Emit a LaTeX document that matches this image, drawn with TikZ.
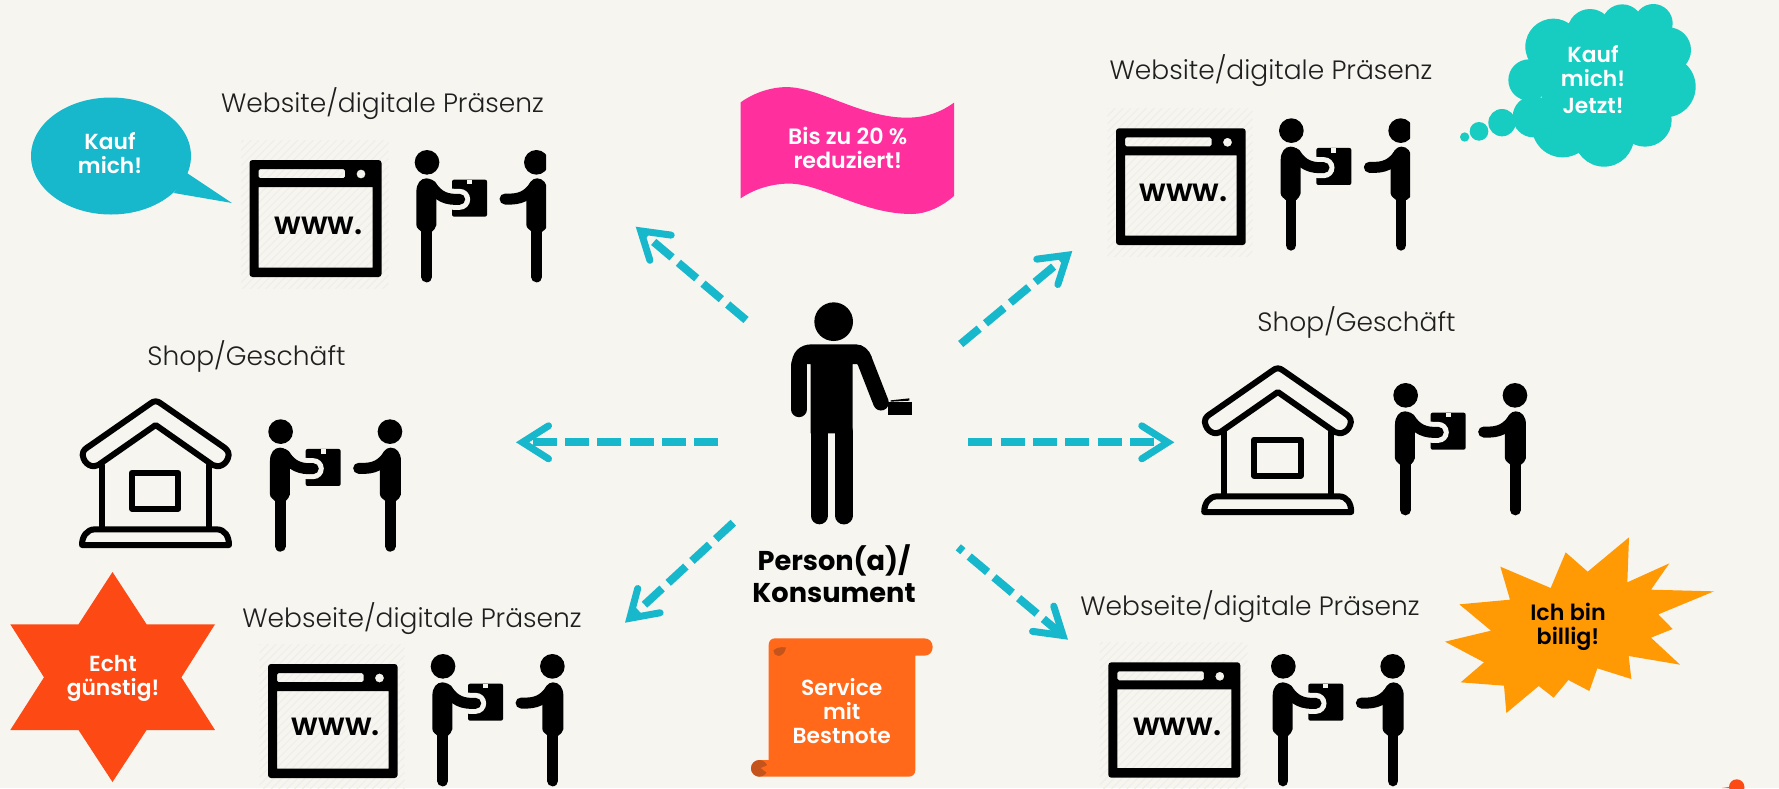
\documentclass[tikz,border=0pt]{standalone}
\usepackage{fontspec}
\setmainfont{Poppins}
\newfontfamily\plight{Poppins Light}
\newfontfamily\pmed{Poppins Medium}
\newfontfamily\psemi{Poppins SemiBold}
\newfontfamily\pbold{Poppins Bold}
\usetikzlibrary{arrows.meta,patterns.meta}
\definecolor{bgc}{HTML}{F6F5F0}
\definecolor{teal1}{HTML}{17B7CC}
\definecolor{teal2}{HTML}{17CCC0}
\definecolor{pink1}{HTML}{FF2F9E}
\definecolor{orange1}{HTML}{FF6919}
\definecolor{orange2}{HTML}{C4541C}
\definecolor{amber1}{HTML}{FF9A05}
\definecolor{red1}{HTML}{FD4A15}
\definecolor{hatch1}{HTML}{EFEEE8}
\tikzset{
  zoomed/.style={x=0.33333pt,y=-0.33333pt},
  headline/.style={font=\plight\fontsize{26.5}{30}\selectfont,text=black!88,anchor=base,inner sep=0pt},
  blab/.style={font=\psemi\fontsize{21.8}{24}\selectfont,text=white,align=center,anchor=base,inner sep=0pt},
  blabw/.style={blab,font=\psemi\fontsize{22.2}{24}\selectfont},
  wwwlab/.style={font=\psemi\fontsize{31.5}{32}\selectfont,anchor=base,inner sep=0pt},
  flow/.style={draw=teal1,line width=8pt,dash pattern=on 24pt off 8.3pt,
    -{Straight Barb[length=26pt,width=33pt,line width=7pt,line cap=round,line join=miter]}},
  pair/.pic={
    \begin{scope}[zoomed]
      \fill (37,37) circle (37);
      \fill (365,37) circle (37);
      \fill[rounded corners=2pt] (112,89) rectangle (217,200);
      \fill[bgc] (157,89) rectangle (172,103);
      \draw[bgc,line width=21pt,line cap=round] (48,105) .. controls (70,140) and (95,150) .. (135,148);
      \fill (5,125) .. controls (5,100) and (18,85) .. (35,85) .. controls (50,85) and (60,95) .. (65,110)
        -- (65,225) .. controls (65,235) and (55,240) .. (52,245) -- (20,245) .. controls (16,240) and (5,235) .. (5,225) -- cycle;
      \draw[line width=10.7pt,line cap=round] (36,235) -- (36,381);
      \draw[line width=11pt,line cap=round] (48,105) .. controls (70,140) and (95,150) .. (135,148);
      \fill (335,125) .. controls (340,100) and (352,85) .. (367,85) .. controls (385,85) and (398,100) .. (398,125)
        -- (398,225) .. controls (398,235) and (388,240) .. (383,245) -- (351,245) .. controls (347,240) and (335,235) .. (335,225) -- cycle;
      \draw[line width=10.7pt,line cap=round] (366,235) -- (366,381);
      \draw[line width=11pt,line cap=round] (360,108) .. controls (340,135) and (320,150) .. (271,147);
    \end{scope}
  },
  house/.pic={
    \begin{scope}[zoomed,line width=6pt,line join=round,line cap=round]
      \draw (115,255) .. controls (100,265) and (72,255) .. (68,225) .. controls (68,210) and (78,205) .. (90,197)
        -- (272,70) .. controls (282,62) and (292,62) .. (302,70) -- (485,197) .. controls (497,205) and (506,212) .. (506,225)
        .. controls (502,255) and (475,265) .. (458,255) -- (287,135) -- cycle;
      \draw (125,255) -- (125,447);
      \draw (447,255) -- (447,447);
      \draw (216,278) rectangle (355,386);
      \draw (66,495) .. controls (66,470) and (80,448) .. (105,448) -- (470,448) .. controls (495,448) and (507,470) .. (507,495) -- cycle;
    \end{scope}
  },
}
\newcommand{\webicon}[7]{%
  \begin{scope}[shift={(#1,#2)}]
    \fill[bgc,pattern={Lines[angle=45,distance=5.5pt,line width=1.1pt]},pattern color=hatch1]
      (-8.5,-20) rectangle ({#3+7},{#4+11});
    \fill[even odd rule,rounded corners=3pt] (0,0) rectangle (#3,#4)
      [sharp corners] (9,27) rectangle ({#3-9},{#4-9.5})
      [rounded corners=1.5pt] (9,9) rectangle (95.5,18)
      [sharp corners] (111.5,14) circle (4.5);
    \node[wwwlab] (#7) at (#5,#6) {www.};
  \end{scope}}
\begin{document}
\begin{tikzpicture}[x=1pt,y=-1pt]
\useasboundingbox (0,0) rectangle (1779,788);
\fill[bgc] (0,0) rectangle (1779,788);

% centre person
\begin{scope}[shift={(700,270)},zoomed]
  \fill (401,155) circle (58);
  \fill (274,290) .. controls (274,245) and (300,223) .. (335,223) -- (468,223)
    .. controls (490,223) and (508,240) .. (515,260) -- (495,300) -- (471,282) -- (458,282)
    -- (458,490) -- (332,490) -- (332,282) -- (320,282) -- (320,300) -- (274,300) -- cycle;
  \draw[line width=15.7pt,line cap=round] (297,285) -- (297,418);
  \draw[line width=15.7pt,line cap=round] (493,270) -- (543,398);
  \draw[line width=17.3pt,line cap=round] (358,485) -- (358,737);
  \draw[line width=17.6pt,line cap=round] (431.5,485) -- (431.5,737);
  \fill (565,397) rectangle (635,436);
  \fill (572,391) -- (628,385) -- (628,392) -- (572,395) -- cycle;
\end{scope}
\node[font=\pbold\fontsize{27.2}{32}\selectfont,align=center,anchor=base,inner sep=0pt] (konsument) at (834,602) {Person(a)/\\Konsument};

% arrows
\coordinate (ulS) at (746,320);   \coordinate (ulT) at (635.7,226.7);
\coordinate (lS) at (718.3,442.3); \coordinate (lT) at (516,442.3);
\coordinate (llS) at (733.3,522.7); \coordinate (llT) at (625,622.7);
\coordinate (urS) at (960.7,344); \coordinate (urT) at (1072.3,251);
\coordinate (rS) at (968.3,442.3); \coordinate (rT) at (1174.3,442.3);
\coordinate (lrS) at (958.3,547.3); \coordinate (lrT) at (1068,639.7);
\draw[flow] (ulS) -- (ulT);
\draw[flow] (lS) -- (lT);
\draw[flow] (llS) -- (llT);
\draw[flow] (urS) -- (urT);
\draw[flow] (rS) -- (rT);
\draw[flow,dash phase=18pt] (lrS) -- (lrT);

% top left group
\node[headline] (hTL) at (382.5,112) {Website/digitale Präsenz};
\webicon{249.5}{160}{132}{117}{69}{74}{wTL}
\begin{scope}
  \clip (400,140) rectangle (546,300);
  \pic at (414.7,150) {pair};
\end{scope}
\fill[teal1] (111,156) ellipse (80 and 58.5);
\fill[teal1] (187,173) -- (232,203) -- (174,193) -- cycle;
\node[blab] (kauf1) at (110,173.5) {Kauf\\mich!};

% top right group
\node[headline] (hTR) at (1271,79.3) {Website/digitale Präsenz};
\webicon{1116}{128.3}{129.7}{116.7}{67.7}{73.4}{wTR}
\begin{scope}
  \clip (1270,100) rectangle (1410,260);
  \pic at (1279,118.3) {pair};
\end{scope}
\begin{scope}[shift={(1420,0)},zoomed,teal2]
  \fill (400,140) circle (84);
  \fill (510,95) circle (68);
  \fill (607,75) circle (62);
  \fill (700,70) circle (58);
  \fill (745,150) circle (68);
  \fill (735,260) circle (92);
  \fill (675,360) circle (80);
  \fill (552,410) circle (90);
  \fill (428,380) circle (92);
  \fill (340,350) circle (62);
  \fill (327,240) circle (62);
  \fill (530,250) circle (170);
  \fill (650,190) circle (100);
  \fill (246,368) circle (41);
  \fill (177,394) circle (28);
  \fill (134,411) circle (14);
\end{scope}
\node[blab] (kauf2) at (1593,113) {Kauf\\mich!\\[3pt]Jetzt!};

% shops
\node[headline] (hSL) at (246.5,365) {Shop/Geschäft};
\pic at (60,380) {house};
\pic at (268.3,419.3) {pair};
\node[headline] (hSR) at (1356.5,331) {Shop/Geschäft};
\pic at (1182.2,347) {house};
\pic at (1393.3,383) {pair};

% bottom left group
\node[headline] (hBL) at (412,627) {Webseite/digitale Präsenz};
\webicon{268}{664}{129.6}{114}{67.8}{71.7}{wBL}
\pic at (430.7,654) {pair};
\fill[red1] (112.5,572) -- (146.6,624.3) -- (215,624.3) -- (181.4,677.3) -- (215,730) -- (146.6,730)
  -- (112.5,782) -- (78.5,730) -- (10.3,730) -- (44,677.3) -- (10.3,624.3) -- (78.5,624.3) -- cycle;
\node[blab] (echt) at (113,695) {Echt\\günstig!};

% bottom right group
\node[headline] (hBR) at (1250,615) {Webseite/digitale Präsenz};
\webicon{1108.3}{662.3}{132}{115.4}{69}{72.7}{wBR}
\pic at (1271,654) {pair};
\begin{scope}[shift={(1420,520)},zoomed]
  \fill[amber1,line join=round] (627,52) -- (622,187) -- (748,130) -- (693,209) -- (882,214) -- (715,283) -- (758,327)
    -- (693,353) -- (780,434) -- (626,408) -- (634,477) -- (532,445) -- (508,513) -- (445,480) -- (401,533)
    -- (356,498) -- (259,579) -- (252,497) -- (122,487) -- (192,427) -- (75,365) -- (213,332) -- (118,253)
    -- (270,239) -- (241,140) -- (392,204) -- (437,97) -- (503,155) -- cycle;
\end{scope}
\node[blabw,text=black] (billig) at (1568,644) {Ich bin\\billig!};

% flag
\begin{scope}[shift={(720,70)},zoomed]
  \fill[pink1] (62,97) .. controls (110,62) and (170,48) .. (215,52) .. controls (310,60) and (430,143) .. (560,143)
    .. controls (620,143) and (665,125) .. (702,98) -- (702,378) .. controls (665,410) and (620,432) .. (575,432)
    .. controls (430,432) and (310,345) .. (215,341) .. controls (170,339) and (110,352) .. (62,385) -- cycle;
\end{scope}
\node[blabw] (sale) at (847.7,168) {Bis zu 20 \%\\reduziert!};

% scroll
\begin{scope}[shift={(730,620)},zoomed]
  \fill[orange1] (135,55) -- (583,55) .. controls (598,55) and (608,66) .. (608,81) .. controls (608,96) and (598,107) .. (583,107)
    -- (556,107) -- (556,450) .. controls (556,462) and (548,470) .. (536,470) -- (90,470)
    .. controls (75,470) and (63,460) .. (63,445) .. controls (63,430) and (75,420) .. (90,420) -- (116,420)
    -- (116,75) .. controls (116,63) and (124,55) .. (135,55) -- cycle;
  \fill[orange2] (88,445) circle (25);
  \fill[orange1] (92,444) -- (116,434) -- (116,462) -- cycle;
  \fill[orange2] (130,92) .. controls (136,84) and (150,80) .. (168,82) .. controls (166,98) and (155,108) .. (145,108) .. controls (136,108) and (131,100) .. (130,92) -- cycle;
\end{scope}
\node[blab] (service) at (841.7,743) {Service\\mit\\Bestnote};

% clipped corner shape
\fill[red1] (1736.7,787) circle (7.7);
\fill[red1] (1729,787) -- (1722,788) -- (1745,788) -- cycle;
\end{tikzpicture}
\end{document}
